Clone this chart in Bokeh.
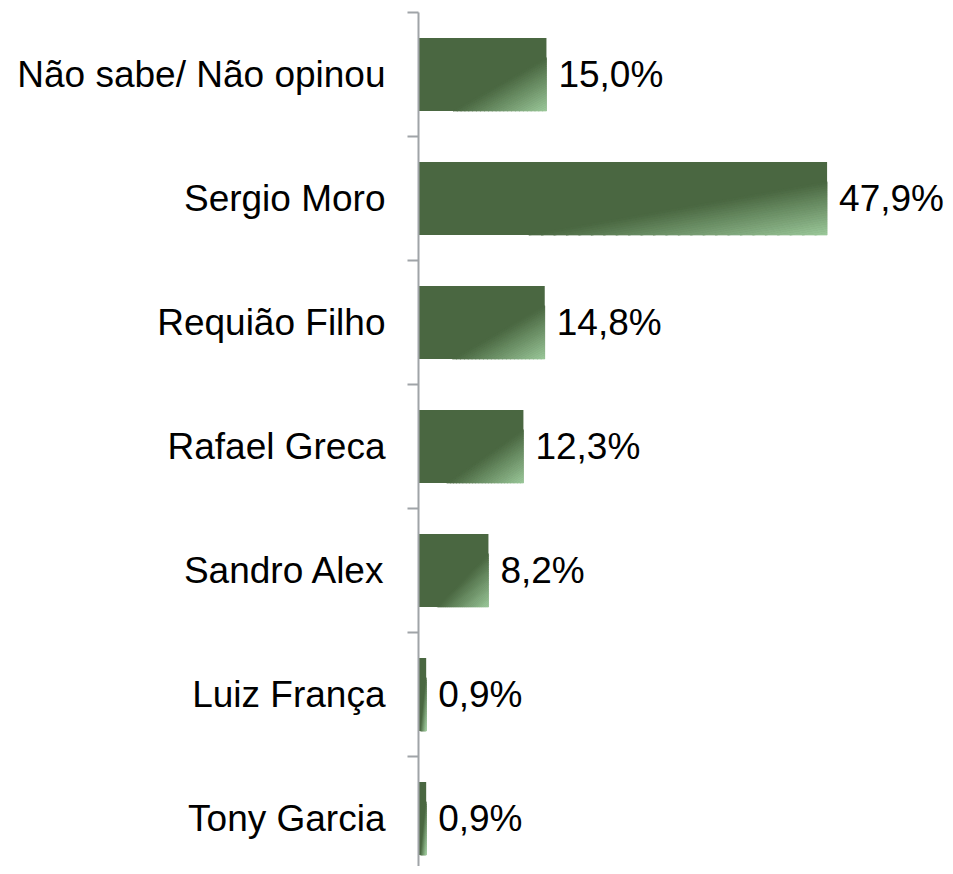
from bokeh.plotting import figure
from bokeh.models import Range1d, FixedTicker, ColumnDataSource, LabelSet
from bokeh.core.properties import value
from bokeh.embed import file_html
from bokeh.resources import INLINE

categories = ["Não sabe/ Não opinou", "Sergio Moro", "Requião Filho", "Rafael Greca",
              "Sandro Alex", "Luiz França", "Tony Garcia"]
values = [15.0, 47.9, 14.8, 12.3, 8.2, 0.9, 0.9]
labels = [f"{v:.1f}%".replace(".", ",") for v in values]

FONT = value("Liberation Sans")
DARK = (0x4a, 0x67, 0x41)
LIGHT = (0x9c, 0xc9, 0x9b)
BAR_H = 0.59

n = len(categories)
centers = [i + 0.5 for i in range(n)]

W, H = 945, 866
LEFT, TOP = 418, 12
PX_PER_PCT = 8.53
CAT_PX = 124.0

p = figure(width=W, height=H, output_backend="svg", toolbar_location=None,
           x_range=Range1d(0, (W - LEFT) / PX_PER_PCT),
           y_range=Range1d(start=(H - TOP) / CAT_PX, end=0),
           min_border_left=LEFT, min_border_right=0, min_border_top=TOP, min_border_bottom=0)
p.outline_line_color = None
p.xgrid.visible = False
p.ygrid.visible = False
p.xaxis.visible = False

src = ColumnDataSource(dict(y=centers, right=values, label=labels))
p.hbar(y="y", left=0, right="right", height=BAR_H, source=src,
       fill_color="#%02x%02x%02x" % DARK, line_color=None)

# gradient towards the lower-right corner of each bar
nb = 24
s0, s1 = 1.27, 2.0
xs, ys, cols = [], [], []
for i, v in enumerate(values):
    top = centers[i] - BAR_H / 2
    for k in range(nb):
        sa = s0 + (s1 - s0) * k / nb
        sb = s0 + (s1 - s0) * (k + 1) / nb
        t = (k + 0.5) / nb
        c = tuple(int(round(DARK[j] + (LIGHT[j] - DARK[j]) * t)) for j in range(3))
        uv = [(sa - 1, 1), (sb - 1, 1), (1, sb - 1), (1, sa - 1)]
        xs.append([u * v for u, _ in uv])
        ys.append([top + w * BAR_H for _, w in uv])
        cols.append("#%02x%02x%02x" % c)
p.patches(xs=xs, ys=ys, fill_color=cols, line_color=cols, line_width=0.6)

p.add_layout(LabelSet(x="right", y="y", text="label", source=src, x_offset=12,
                      text_baseline="middle", text_align="left",
                      text_font=FONT, text_font_size="37px", text_color="black"))

ax = p.yaxis[0]
ax.ticker = FixedTicker(ticks=centers, minor_ticks=[float(i) for i in range(n + 1)])
ax.major_label_overrides = {c: lab for c, lab in zip(centers, categories)}
ax.major_tick_out = 0
ax.major_tick_in = 0
ax.minor_tick_out = 11
ax.minor_tick_in = 0
ax.axis_line_color = "#a0a4a8"
ax.axis_line_width = 2
ax.minor_tick_line_color = "#a0a4a8"
ax.minor_tick_line_width = 2
ax.major_label_standoff = 22
ax.major_label_text_font = "Liberation Sans"
ax.major_label_text_font_size = "37px"
ax.major_label_text_color = "black"

open("out.html", "w").write(file_html(p, INLINE))
